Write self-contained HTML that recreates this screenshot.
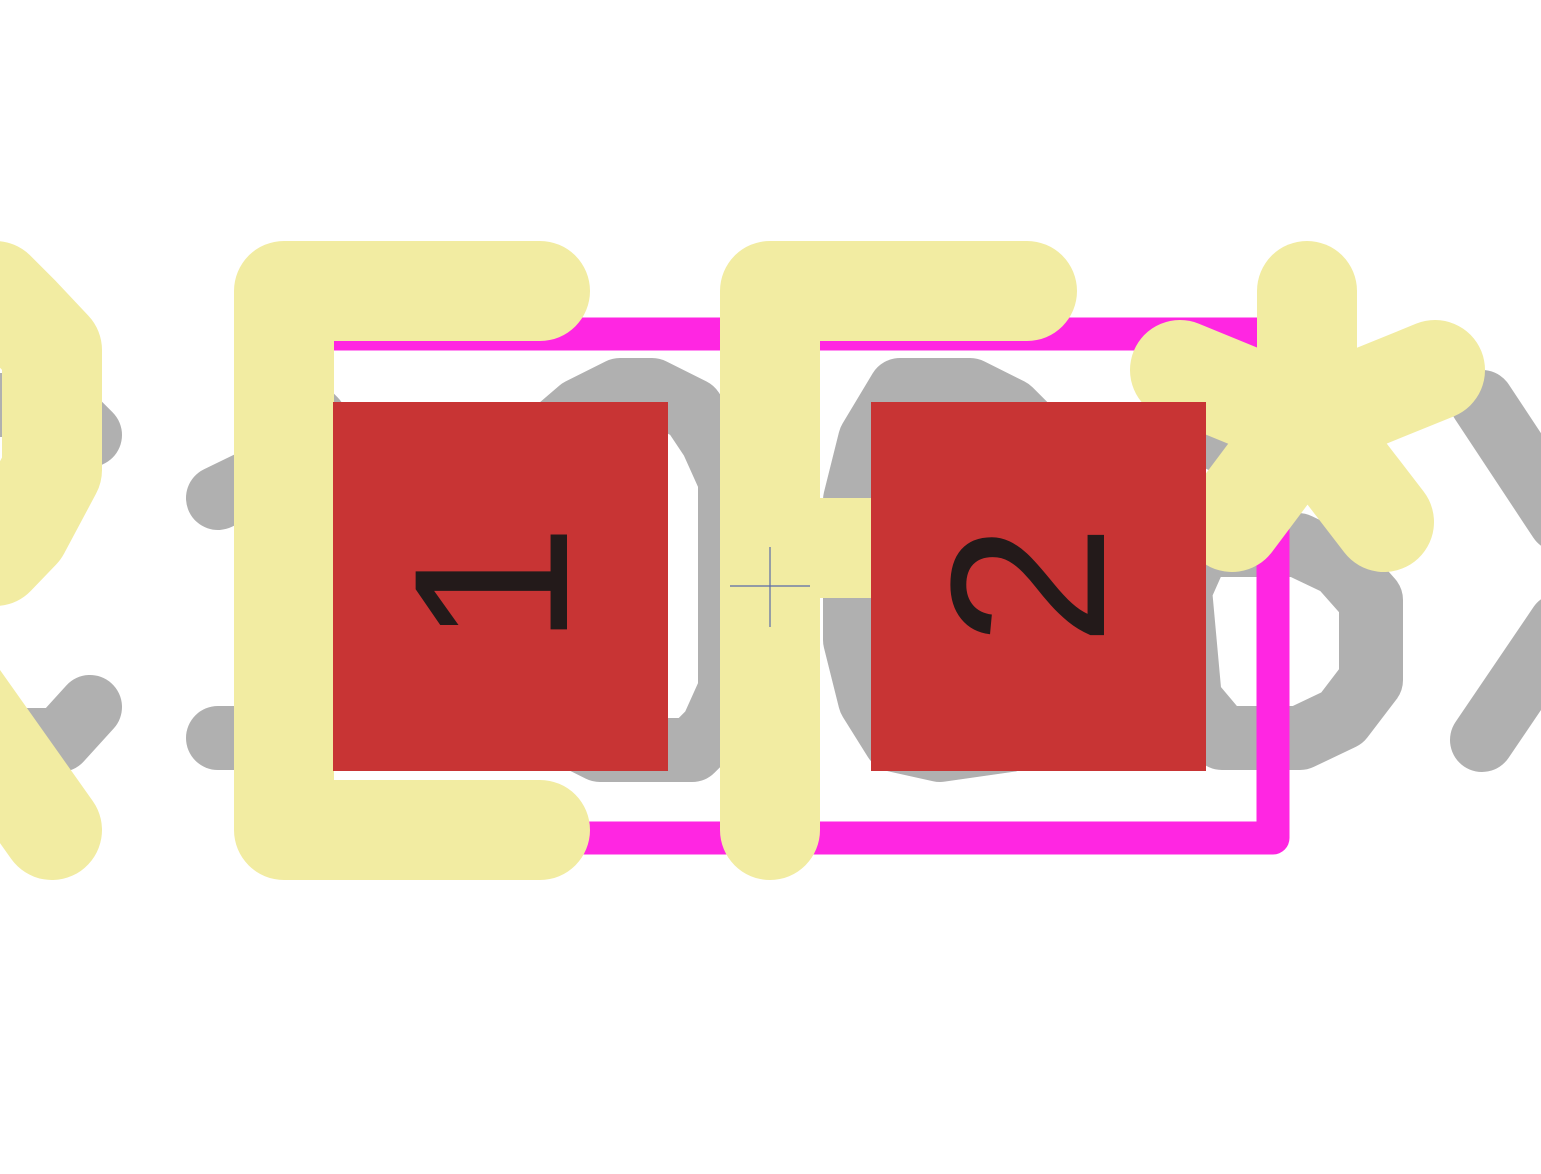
<!DOCTYPE html>
<html><head><meta charset="utf-8"><title>Footprint</title>
<style>html,body{margin:0;padding:0;background:#fff;width:1541px;height:1174px;overflow:hidden}</style>
</head><body>
<svg width="1541" height="1174" viewBox="0 0 1541 1174" xmlns="http://www.w3.org/2000/svg">
  <rect x="0" y="0" width="1541" height="1174" fill="#ffffff"/>
  <!-- gray value text -->
  <g fill="none" stroke="#b0b0b0" stroke-width="64" stroke-linecap="round" stroke-linejoin="round">
    <polyline points="-40,405 60,405 90,435"/>
    <polyline points="-40,740 60,740 90,707"/>
    <polyline points="218,498 280,468"/>
    <polyline points="218,738 290,738"/>
    <polyline points="300,405 315,420"/>
    <polygon points="580,410 620,390 652,390 692,410 712,440 730,480 730,690 712,730 692,750 600,750 560,730 545,700 545,440"/>
    <polygon points="900,390 970,390 1010,410 1040,440 1040,700 1010,740 940,750 895,740 870,700 855,640 855,500 870,440"/>
    <polyline points="1220,440 1250,410"/>
    <polygon points="1200,545 1298,545 1340,565 1371,600 1371,680 1342,718 1300,738 1222,738 1190,700 1180,590"/>
    <polyline points="1482,402 1560,520"/>
    <polyline points="1482,740 1560,625"/>
  </g>
  <!-- courtyard / silkscreen outline -->
  <path d="M300,334 L1273,334 L1273,838 L300,838 Z" fill="none" stroke="#ff26e2" stroke-width="33" stroke-linejoin="round"/>
  <!-- yellow reference text REF** -->
  <g fill="none" stroke="#f2eca2" stroke-width="100" stroke-linecap="round" stroke-linejoin="round">
    <polyline points="-60,291 -5,291 20,316 52,350 52,470 20,530 -5,556 -60,560"/>
    <polyline points="-40,700 52,830"/>
    <polyline points="540,291 284,291 284,830 540,830"/>
    <polyline points="1027,291 770,291 770,830"/>
    <polyline points="770,548 880,548"/>
    <polyline points="1307,291 1307,440"/>
    <polyline points="1180,370 1307,422 1435,370"/>
    <polyline points="1232,522 1307,422 1384,522"/>
  </g>
  <!-- pads -->
  <rect x="333" y="402" width="335" height="369" fill="#c83434"/>
  <rect x="871" y="402" width="335" height="369" fill="#c83434"/>
  <text x="0" y="0" transform="translate(491,585) rotate(-90)" text-anchor="middle" font-family="Liberation Sans, sans-serif" font-size="220" fill="#231a1a" dominant-baseline="central">1</text>
  <text x="0" y="0" transform="translate(1028,585) rotate(-90)" text-anchor="middle" font-family="Liberation Sans, sans-serif" font-size="220" fill="#231a1a" dominant-baseline="central">2</text>
  <!-- anchor crosshair -->
  <g stroke="#5a6aa8" stroke-width="1.2">
    <line x1="730" y1="586" x2="810" y2="586"/>
    <line x1="770" y1="547" x2="770" y2="627"/>
  </g>
</svg>
</body></html>
